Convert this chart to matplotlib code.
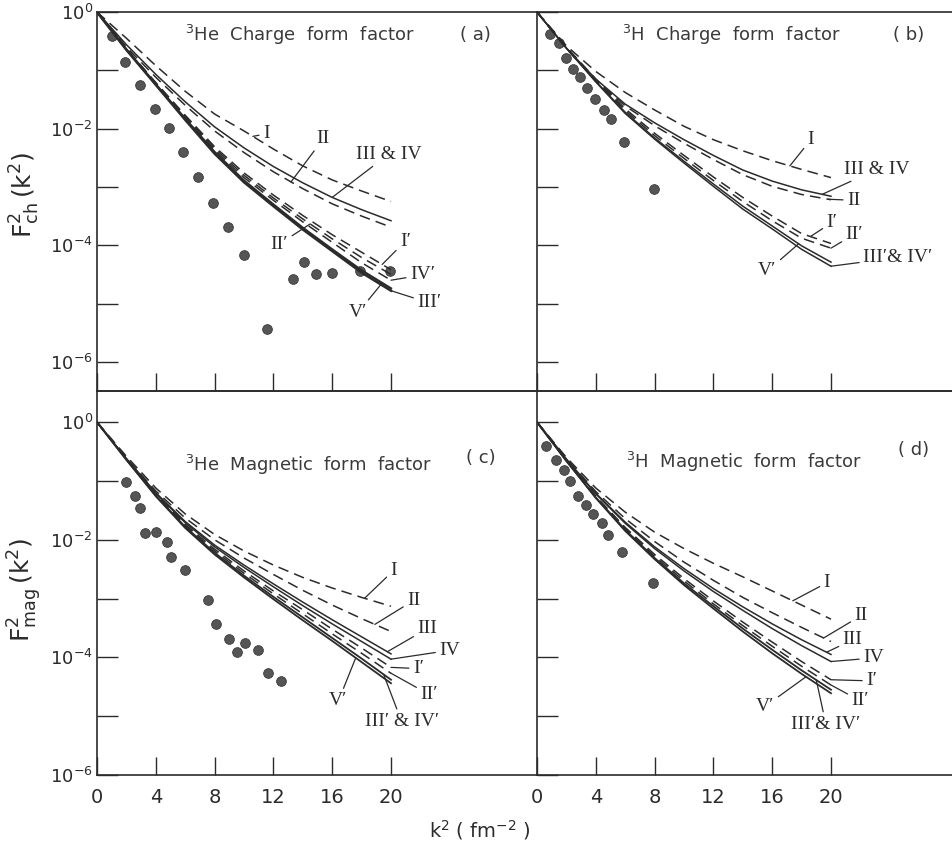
import numpy as np
import matplotlib
matplotlib.use("Agg")
import matplotlib.pyplot as plt
from matplotlib.ticker import NullLocator

plt.rcParams['mathtext.default'] = 'regular'
plt.rcParams['font.family'] = ['DejaVu Sans']

INK = '#2b2b2b'
SERIF = ['Liberation Serif', 'DejaVu Serif']

k2 = [0, 2, 4, 6, 8, 10, 12, 14, 16, 18, 20]

# log10 F^2
# (a) 3He charge
a_I    = [0, -0.45, -0.92, -1.36, -1.75, -2.04, -2.35, -2.64, -2.88, -3.07, -3.25]
a_II   = [0, -0.60, -1.12, -1.60, -2.04, -2.41, -2.74, -3.03, -3.29, -3.50, -3.69]
a_III  = [0, -0.56, -1.07, -1.54, -1.97, -2.33, -2.65, -2.93, -3.18, -3.39, -3.58]
a_Ip   = [0, -0.63, -1.21, -1.77, -2.31, -2.76, -3.14, -3.49, -3.82, -4.12, -4.42]
a_IIp  = [0, -0.63, -1.22, -1.79, -2.34, -2.80, -3.19, -3.55, -3.89, -4.21, -4.50]
a_IVp  = [0, -0.64, -1.23, -1.81, -2.37, -2.84, -3.23, -3.60, -3.95, -4.30, -4.60]
a_IIIp = [0, -0.65, -1.25, -1.85, -2.43, -2.92, -3.33, -3.73, -4.10, -4.47, -4.78]
a_Vp   = [0, -0.64, -1.24, -1.83, -2.40, -2.89, -3.30, -3.70, -4.07, -4.43, -4.74]

# (b) 3H charge
b_I    = [0, -0.58, -1.02, -1.38, -1.68, -1.96, -2.19, -2.38, -2.55, -2.70, -2.84]
b_II   = [0, -0.63, -1.17, -1.61, -1.95, -2.25, -2.53, -2.79, -2.99, -3.13, -3.22]
b_III  = [0, -0.62, -1.15, -1.58, -1.90, -2.19, -2.46, -2.71, -2.90, -3.05, -3.16]
b_Ip   = [0, -0.60, -1.15, -1.66, -2.08, -2.46, -2.83, -3.18, -3.50, -3.80, -3.97]
b_IIp  = [0, -0.61, -1.17, -1.69, -2.12, -2.51, -2.89, -3.25, -3.58, -3.88, -4.05]
b_IIIp = [0, -0.62, -1.20, -1.74, -2.18, -2.59, -2.99, -3.38, -3.72, -4.07, -4.36]
b_Vp   = [0, -0.62, -1.19, -1.72, -2.16, -2.56, -2.95, -3.33, -3.67, -4.01, -4.29]

# (c) 3He magnetic
c_I    = [0, -0.58, -1.12, -1.56, -1.91, -2.19, -2.43, -2.64, -2.82, -2.98, -3.13]
c_II   = [0, -0.61, -1.17, -1.63, -2.00, -2.31, -2.59, -2.86, -3.11, -3.34, -3.56]
c_III  = [0, -0.62, -1.20, -1.69, -2.09, -2.43, -2.75, -3.06, -3.36, -3.65, -3.94]
c_IV   = [0, -0.62, -1.21, -1.71, -2.12, -2.47, -2.80, -3.12, -3.43, -3.73, -4.03]
c_Ip   = [0, -0.63, -1.23, -1.74, -2.16, -2.53, -2.87, -3.19, -3.52, -3.84, -4.17]
c_IIp  = [0, -0.63, -1.24, -1.76, -2.19, -2.57, -2.92, -3.26, -3.60, -3.93, -4.27]
c_IIIp = [0, -0.64, -1.25, -1.78, -2.22, -2.61, -2.97, -3.32, -3.67, -4.02, -4.38]
c_Vp   = [0, -0.64, -1.26, -1.80, -2.25, -2.64, -3.01, -3.37, -3.72, -4.08, -4.44]

# (d) 3H magnetic
d_I    = [0, -0.60, -1.12, -1.53, -1.87, -2.15, -2.40, -2.63, -2.87, -3.11, -3.35]
d_II   = [0, -0.62, -1.18, -1.64, -2.03, -2.38, -2.69, -2.98, -3.24, -3.49, -3.73]
d_III  = [0, -0.63, -1.21, -1.70, -2.12, -2.49, -2.83, -3.14, -3.43, -3.70, -3.95]
d_IV   = [0, -0.63, -1.22, -1.72, -2.15, -2.53, -2.88, -3.20, -3.51, -3.80, -4.07]
d_Ip   = [0, -0.65, -1.26, -1.79, -2.25, -2.66, -3.04, -3.40, -3.74, -4.07, -4.38]
d_IIp  = [0, -0.65, -1.27, -1.81, -2.28, -2.70, -3.09, -3.46, -3.81, -4.15, -4.47]
d_IIIp = [0, -0.66, -1.28, -1.83, -2.31, -2.74, -3.13, -3.51, -3.87, -4.22, -4.55]
d_Vp   = [0, -0.66, -1.29, -1.85, -2.33, -2.77, -3.17, -3.56, -3.93, -4.28, -4.61]

# experimental points (k2, log10 F^2)
a_dot_k2  = [1.0, 1.92, 2.9, 3.93, 4.89, 5.88, 6.84, 7.89, 8.89, 9.97, 11.57, 13.35, 14.08, 14.9, 15.98, 17.92, 19.91]
a_dot_log = [-0.41, -0.85, -1.25, -1.66, -1.99, -2.40, -2.83, -3.28, -3.69, -4.17, -5.44, -4.58, -4.29, -4.50, -4.47, -4.44, -4.44]
b_dot_k2  = [0.9, 1.51, 1.96, 2.48, 2.91, 3.42, 3.94, 4.55, 5.0, 5.9, 7.93]
b_dot_log = [-0.38, -0.54, -0.79, -0.97, -1.12, -1.30, -1.49, -1.68, -1.83, -2.23, -3.03]
c_dot_k2  = [1.99, 2.61, 2.95, 3.29, 3.98, 4.73, 5.0, 5.99, 7.57, 8.09, 8.96, 9.53, 10.1, 10.95, 11.64, 12.5]
c_dot_log = [-1.02, -1.26, -1.46, -1.89, -1.86, -2.03, -2.29, -2.52, -3.02, -3.44, -3.69, -3.91, -3.75, -3.87, -4.27, -4.41]
d_dot_k2  = [0.63, 1.31, 1.85, 2.26, 2.78, 3.34, 3.8, 4.41, 4.81, 5.81, 7.86]
d_dot_log = [-0.40, -0.65, -0.82, -1.00, -1.25, -1.41, -1.56, -1.72, -1.92, -2.21, -2.74]

W, H = 952, 846
fig = plt.figure(figsize=(W / 100, H / 100), dpi=100)


def fpos(x, y):
    return x / W, 1 - y / H


def on_curve(curve, x):
    return 10 ** np.interp(x, k2, curve)


def make_axes(left, top, width, height, ylim, ylabels, xlabels):
    ax = fig.add_axes([left / W, 1 - (top + height) / H, width / W, height / H])
    ax.set_yscale('log')
    ax.set_ylim(*ylim)
    ax.set_xlim(0, width / 14.7)
    decs = list(range(0, -7, -1))
    ax.set_yticks([10.0 ** e for e in decs])
    if ylabels:
        ax.set_yticklabels(['$10^{%d}$' % e if e % 2 == 0 else '' for e in decs])
    else:
        ax.set_yticklabels([''] * len(decs))
    ax.yaxis.set_minor_locator(NullLocator())
    ax.set_xticks([0, 4, 8, 12, 16, 20])
    if xlabels:
        ax.set_xticklabels(['0', '4', '8', '12', '16', '20'])
    else:
        ax.set_xticklabels([''] * 6)
    ax.tick_params(axis='y', direction='in', length=15, width=1.0, color=INK,
                   labelsize=13, pad=3, labelcolor=INK)
    ax.tick_params(axis='x', direction='in', length=13, width=1.0, color=INK,
                   labelsize=14, pad=9, labelcolor=INK)
    for s in ax.spines.values():
        s.set_color(INK)
        s.set_linewidth(1.2)
    ax.spines['right'].set_visible(False)
    ax.patch.set_alpha(0)
    return ax


def draw(ax, curves, dots_x, dots_y, labels):
    for curve, style, lw in curves:
        if style == 'dash':
            ax.plot(k2, 10 ** np.array(curve), color=INK, lw=lw, dashes=(7, 4))
        else:
            ax.plot(k2, 10 ** np.array(curve), color=INK, lw=lw)
    ax.plot(dots_x, 10 ** np.array(dots_y), 'o', ms=7, color='#555555',
            mec='#3a3a3a', mew=0.6, zorder=1)
    for text, curve, ax_x, tx, tly, ha in labels:
        ax.annotate(text, xy=(ax_x, on_curve(curve, ax_x)), xytext=(tx, 10 ** tly),
                    textcoords='data', ha=ha, va='center', fontsize=14,
                    family=SERIF, color=INK,
                    arrowprops=dict(arrowstyle='-', lw=0.9, color=INK,
                                    shrinkA=1, shrinkB=0))


ax_a = make_axes(97, 12, 440, 379, (10 ** -6.5, 1.0), True, False)
ax_b = make_axes(537, 12, 415, 379, (10 ** -6.5, 1.0), False, False)
ax_c = make_axes(97, 391, 440, 384, (1e-6, 10 ** 0.53), True, True)
ax_d = make_axes(537, 391, 415, 384, (1e-6, 10 ** 0.53), False, True)

draw(ax_a,
     [(a_I, 'dash', 1.1), (a_II, 'dash', 1.1), (a_III, 'solid', 1.1),
      (a_Ip, 'dash', 1.1), (a_IIp, 'dash', 1.1), (a_IVp, 'dash', 1.1),
      (a_IIIp, 'solid', 1.8), (a_Vp, 'solid', 1.6)],
     a_dot_k2, a_dot_log,
     [('I', a_I, 10.6, 11.3, -2.09, 'left'),
      ('II', a_II, 13.2, 14.95, -2.17, 'left'),
      ('III & IV', a_III, 16.0, 17.6, -2.44, 'left'),
      ('I\u2032', a_Ip, 19.4, 20.6, -3.93, 'left'),
      ('IV\u2032', a_IVp, 20.0, 21.3, -4.51, 'left'),
      ('III\u2032', a_IIIp, 20.0, 21.8, -4.99, 'left'),
      ('V\u2032', a_Vp, 19.4, 18.4, -5.15, 'right'),
      ('II\u2032', a_IIp, 14.5, 13.0, -3.98, 'right')])

draw(ax_b,
     [(b_I, 'dash', 1.1), (b_II, 'dash', 1.1), (b_III, 'solid', 1.1),
      (b_Ip, 'dash', 1.1), (b_IIp, 'dash', 1.1), (b_IIIp, 'solid', 1.1),
      (b_Vp, 'solid', 1.1)],
     b_dot_k2, b_dot_log,
     [('I', b_I, 17.2, 18.4, -2.19, 'left'),
      ('III & IV', b_III, 19.4, 20.9, -2.70, 'left'),
      ('II', b_II, 19.8, 21.1, -3.23, 'left'),
      ('I\u2032', b_Ip, 18.6, 19.7, -3.61, 'left'),
      ('II\u2032', b_IIp, 20.0, 21.0, -3.81, 'left'),
      ('III\u2032& IV\u2032', b_IIIp, 20.0, 22.2, -4.21, 'left'),
      ('V\u2032', b_Vp, 17.8, 16.3, -4.44, 'right')])

draw(ax_c,
     [(c_I, 'dash', 1.1), (c_II, 'dash', 1.1), (c_III, 'solid', 1.1),
      (c_IV, 'solid', 1.1), (c_Ip, 'dash', 1.1), (c_IIp, 'dash', 1.1),
      (c_IIIp, 'solid', 1.3), (c_Vp, 'solid', 1.3)],
     c_dot_k2, c_dot_log,
     [('I', c_I, 18.2, 19.96, -2.52, 'left'),
      ('II', c_II, 18.9, 21.1, -3.03, 'left'),
      ('III', c_III, 19.75, 21.8, -3.51, 'left'),
      ('IV', c_IV, 20.0, 23.3, -3.88, 'left'),
      ('I\u2032', c_Ip, 20.0, 21.5, -4.19, 'left'),
      ('II\u2032', c_IIp, 20.0, 22.0, -4.63, 'left'),
      ('III\u2032 & IV\u2032', c_IIIp, 19.5, 18.2, -5.09, 'left'),
      ('V\u2032', c_Vp, 17.6, 15.8, -4.74, 'left')])

draw(ax_d,
     [(d_I, 'dash', 1.1), (d_II, 'dash', 1.1), (d_III, 'solid', 1.1),
      (d_IV, 'solid', 1.1), (d_Ip, 'dash', 1.1), (d_IIp, 'dash', 1.1),
      (d_IIIp, 'solid', 1.3), (d_Vp, 'solid', 1.3)],
     d_dot_k2, d_dot_log,
     [('I', d_I, 17.4, 19.5, -2.73, 'left'),
      ('II', d_II, 19.5, 21.6, -3.29, 'left'),
      ('III', d_III, 19.7, 20.8, -3.70, 'left'),
      ('IV', d_IV, 20.0, 22.2, -4.01, 'left'),
      ('I\u2032', d_Ip, 20.0, 22.4, -4.40, 'left'),
      ('II\u2032', d_IIp, 20.0, 21.4, -4.74, 'left'),
      ('III\u2032& IV\u2032', d_IIIp, 19.0, 17.3, -5.14, 'left'),
      ('V\u2032', d_Vp, 18.3, 14.9, -4.83, 'left')])

# panel titles
title_kw = dict(fontsize=13, color='#3a3a3a', va='center', ha='left')
fig.text(*fpos(185, 35), '$^{3}$He  Charge  form  factor', **title_kw)
fig.text(*fpos(460, 35), '( a)', **title_kw)
fig.text(*fpos(622, 35), '$^{3}$H  Charge  form  factor', **title_kw)
fig.text(*fpos(893, 35), '( b)', **title_kw)
fig.text(*fpos(185, 465), '$^{3}$He  Magnetic  form  factor', **title_kw)
fig.text(*fpos(466, 458), '( c)', **title_kw)
fig.text(*fpos(626, 462), '$^{3}$H  Magnetic  form  factor', **title_kw)
fig.text(*fpos(898, 450), '( d)', **title_kw)

# axis titles
fig.text(*fpos(25, 195), r'$F^{2}_{ch}\,(k^{2})$', rotation=90, fontsize=18,
         color=INK, ha='center', va='center')
fig.text(*fpos(25, 590), r'$F^{2}_{mag}\,(k^{2})$', rotation=90, fontsize=18,
         color=INK, ha='center', va='center')
fig.text(*fpos(480, 830), r'$k^{2}$ ( fm$^{-2}$ )', fontsize=14, color=INK,
         ha='center', va='center')

fig.savefig('out.png', dpi=100)
